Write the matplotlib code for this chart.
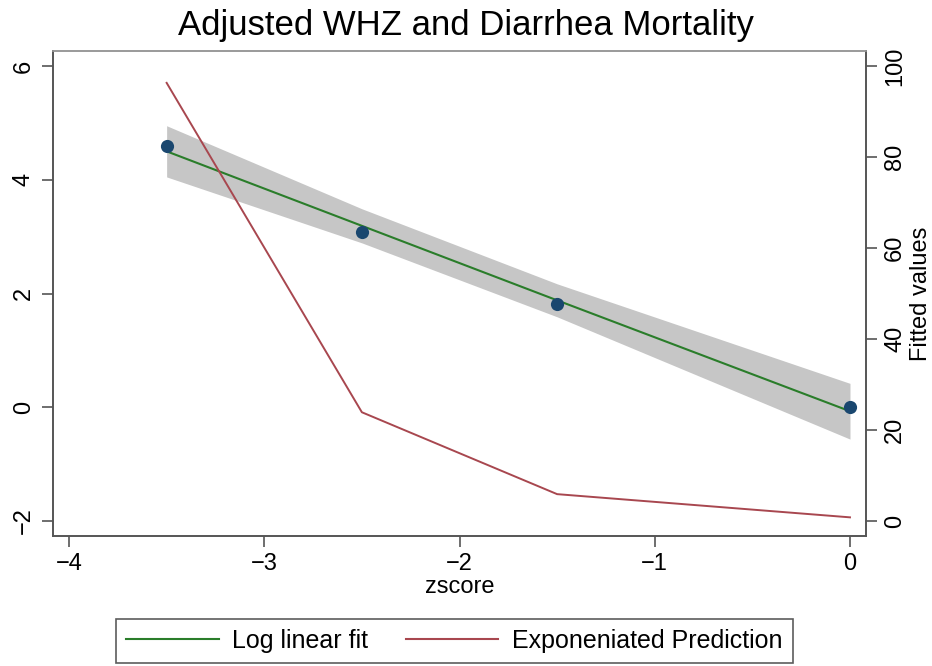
import matplotlib
matplotlib.use('Agg')
import matplotlib.pyplot as plt
from matplotlib.lines import Line2D
plt.rcParams['font.family'] = ['Liberation Sans', 'DejaVu Sans']

# data
zscore = [-3.5, -2.5, -1.5, 0.0]
whz_adj = [4.60, 3.09, 1.81, 0.00]
fit = [4.50, 3.19, 1.88, -0.07]
ci_lo = [4.05, 2.89, 1.59, -0.56]
ci_hi = [4.95, 3.49, 2.17, 0.42]
exp_pred = [96.3, 23.9, 5.9, 0.8]

left_ticks = [-2, 0, 2, 4, 6]
right_ticks = [0, 20, 40, 60, 80, 100]
x_ticks = [-4, -3, -2, -1, 0]

W, H = 932, 666
fig = plt.figure(figsize=(W/100, H/100), dpi=100)
ax = fig.add_axes([53/W, 1-536/H, (866-53)/W, (536-51)/H])

green = '#2a7d2a'
red = '#a8474f'
navy = '#1a476f'
fs = 17

ax.fill_between(zscore, ci_lo, ci_hi, color='#c6c6c6', linewidth=0, zorder=1)
ax.plot(zscore, fit, color=green, linewidth=1.5, zorder=3)
ax.scatter(zscore, whz_adj, s=90, color=navy, zorder=4, linewidths=0)

ax.set_xlim(-4.082, 0.082)
ax.set_ylim(-2.264, 6.264)
ax.set_xticks(x_ticks)
ax.set_xticklabels(['\u22124', '\u22123', '\u22122', '\u22121', '0'])
ax.set_yticks(left_ticks)
ax.set_yticklabels(['\u22122', '0', '2', '4', '6'], rotation=90, va='center')
ax.tick_params(axis='both', labelsize=fs, length=8, width=1.2, color='#555555')
ax.tick_params(axis='y', pad=5)
ax.tick_params(axis='x', pad=4)
ax.set_xlabel('zscore', fontsize=fs, labelpad=1)

ax2 = ax.twinx()
ax2.plot(zscore, exp_pred, color=red, linewidth=1.4, zorder=5)
ax2.set_ylim(-3.3, 103.3)
ax2.set_yticks(right_ticks)
ax2.set_yticklabels([str(t) for t in right_ticks], rotation=90, va='center')
ax2.tick_params(axis='y', labelsize=fs, length=8, width=1.2, color='#555555', pad=5)
ax2.set_ylabel('Fitted values', fontsize=fs, labelpad=3)

for a in (ax, ax2):
    for s in a.spines.values():
        s.set_linewidth(1.2)
        s.set_color('#555555')
    a.spines['top'].set_color('#9a9a9a')

fig.suptitle('Adjusted WHZ and Diarrhea Mortality', fontsize=25, y=1-26/H, va='center')

handles = [Line2D([], [], color=green, linewidth=1.5),
           Line2D([], [], color=red, linewidth=1.5)]
leg = fig.legend(handles, ['Log linear fit', 'Exponeniated Prediction'],
                 loc='lower left', bbox_to_anchor=(116/W, 1-663/H), ncol=2,
                 fontsize=18, frameon=True, fancybox=False, handlelength=3.7,
                 handletextpad=0.56, columnspacing=1.48, borderpad=0.4,
                 borderaxespad=0)
leg.get_frame().set_edgecolor('#333333')
leg.get_frame().set_linewidth(1.2)

fig.savefig('out.png', dpi=100)
